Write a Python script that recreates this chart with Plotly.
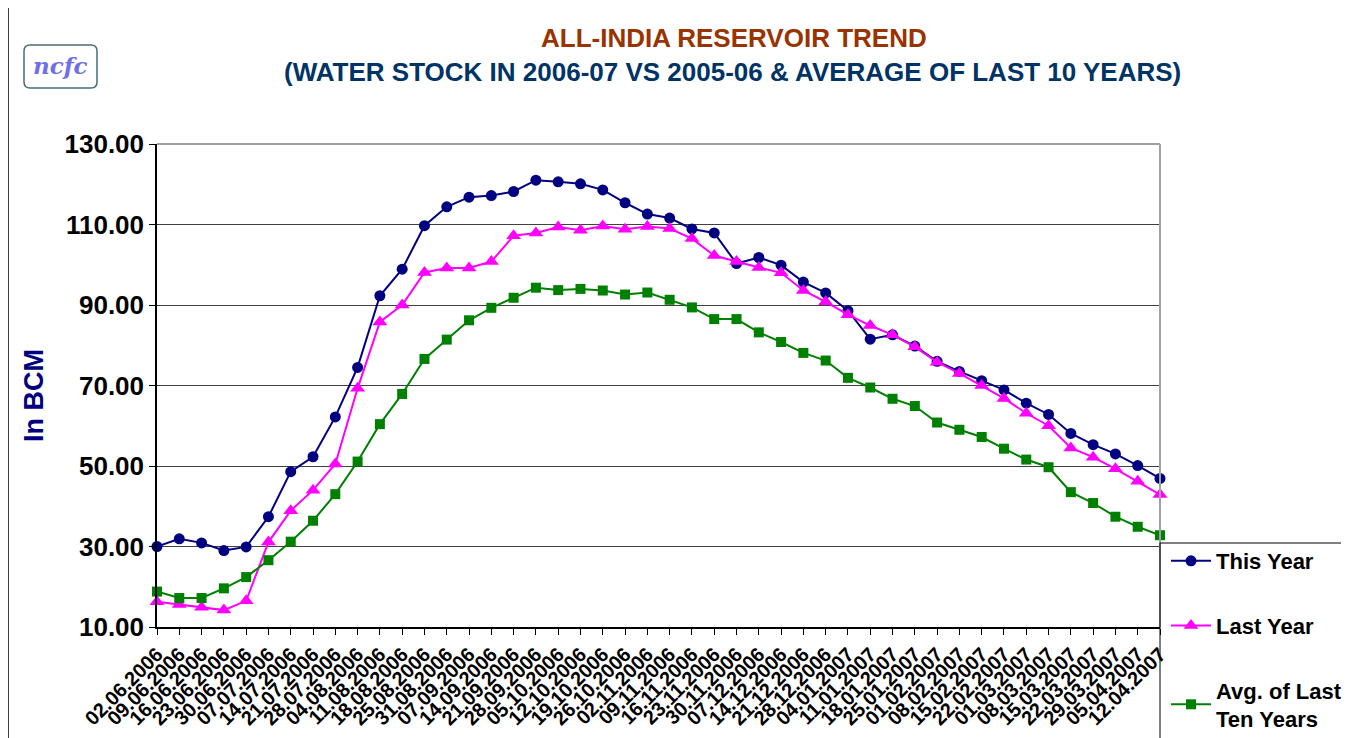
import plotly.graph_objects as go

dates = ["02.06.2006", "09.06.2006", "16.06.2006", "23.06.2006", "30.06.2006", "07.07.2006",
         "14.07.2006", "21.07.2006", "28.07.2006", "04.08.2006", "11.08.2006", "18.08.2006",
         "25.08.2006", "31.08.2006", "07.09.2006", "14.09.2006", "21.09.2006", "28.09.2006",
         "05.10.2006", "12.10.2006", "19.10.2006", "26.10.2006", "02.11.2006", "09.11.2006",
         "16.11.2006", "23.11.2006", "30.11.2006", "07.12.2006", "14.12.2006", "21.12.2006",
         "28.12.2006", "04.01.2007", "11.01.2007", "18.01.2007", "25.01.2007", "01.02.2007",
         "08.02.2007", "15.02.2007", "22.02.2007", "01.03.2007", "08.03.2007", "15.03.2007",
         "22.03.2007", "29.03.2007", "05.04.2007", "12.04.2007"]

this_year = [30.0, 31.9, 30.9, 29.0, 29.9, 37.4, 48.6, 52.3, 62.2, 74.5, 92.3, 98.9,
             109.7, 114.4, 116.8, 117.2, 118.2, 121.0, 120.6, 120.1, 118.6, 115.4, 112.6, 111.6,
             108.9, 107.9, 100.3, 101.8, 99.9, 95.7, 93.0, 88.6, 81.5, 82.6, 79.8, 76.0,
             73.5, 71.2, 68.9, 65.6, 62.8, 58.1, 55.3, 53.0, 50.1, 46.9]

last_year = [16.3, 15.6, 14.9, 14.2, 16.5, 31.1, 38.9, 44.0, 50.5, 69.3, 85.8, 90.0,
             98.1, 99.2, 99.2, 100.8, 107.2, 107.9, 109.4, 108.6, 109.6, 108.8, 109.5, 109.0,
             106.5, 102.3, 100.8, 99.3, 98.0, 93.6, 90.8, 87.6, 84.9, 82.6, 79.6, 75.8,
             73.0, 70.0, 66.8, 63.1, 60.0, 54.5, 52.2, 49.3, 46.2, 42.9]

avg_ten = [18.8, 17.2, 17.2, 19.6, 22.4, 26.6, 31.2, 36.4, 43.0, 51.1, 60.4, 67.9,
           76.6, 81.4, 86.2, 89.3, 91.8, 94.3, 93.7, 94.0, 93.6, 92.6, 93.1, 91.3,
           89.4, 86.5, 86.5, 83.2, 80.8, 78.1, 76.2, 71.9, 69.5, 66.7, 64.9, 60.8,
           59.0, 57.2, 54.3, 51.6, 49.7, 43.5, 40.8, 37.4, 34.9, 32.8]

series_names = ["This Year", "Last Year", "Avg. of Last<br>Ten Years"]
y_ticks = [10, 30, 50, 70, 90, 110, 130]

# page has an 8px body margin; all target pixel positions below are page pixels
OFF = 8
W, H = 1349 - OFF, 738 - OFF
L, R, T, B = 157, 1160, 144, 627

def px(x):
    return (x - L) / (R - L)

def py(y):
    return (B - y) / (B - T)

FONT = "Liberation Sans, Arial, sans-serif"

fig = go.Figure()
fig.add_trace(go.Scatter(x=dates, y=this_year, name=series_names[0], mode="lines+markers",
                         line=dict(color="#000080", width=2),
                         marker=dict(symbol="circle", size=11, color="#000080"),
                         cliponaxis=False, legendgroup="a"))
fig.add_trace(go.Scatter(x=dates, y=last_year, name=series_names[1], mode="lines+markers",
                         line=dict(color="#FF00FF", width=2),
                         marker=dict(symbol="triangle-up", size=13, color="#FF00FF"),
                         cliponaxis=False, legendgroup="b"))
fig.add_trace(go.Scatter(x=dates, y=avg_ten, name=series_names[2], mode="lines+markers",
                         line=dict(color="#008000", width=2),
                         marker=dict(symbol="square", size=10, color="#008000"),
                         cliponaxis=False, legendgroup="c"))

shapes = [
    dict(type="line", xref="paper", yref="paper", x0=0, x1=1, y0=1, y1=1,
         line=dict(color="#A0A0A0", width=2)),
    dict(type="line", xref="paper", yref="paper", x0=1, x1=1, y0=0, y1=1,
         line=dict(color="#A0A0A0", width=2)),
    dict(type="line", xref="paper", yref="paper", x0=px(8), x1=px(8), y0=py(745), y1=py(0),
         line=dict(color="#000000", width=1.5)),
    dict(type="line", xref="paper", yref="paper", x0=px(1160), x1=px(1352), y0=py(543), y1=py(543),
         line=dict(color="#000000", width=1)),
    dict(type="line", xref="paper", yref="paper", x0=px(1160), x1=px(1160), y0=py(543), y1=py(745),
         line=dict(color="#000000", width=1)),
    dict(type="path", xref="paper", yref="paper",
         path=(f"M {px(30)},{py(45)} L {px(91)},{py(45)} Q {px(97)},{py(45)} {px(97)},{py(51)} "
               f"L {px(97)},{py(82)} Q {px(97)},{py(88)} {px(91)},{py(88)} "
               f"L {px(30)},{py(88)} Q {px(24)},{py(88)} {px(24)},{py(82)} "
               f"L {px(24)},{py(51)} Q {px(24)},{py(45)} {px(30)},{py(45)} Z"),
         line=dict(color="#4A6E6E", width=1.5), fillcolor="white"),
]

annotations = [
    dict(text="<b>ALL-INDIA RESERVOIR TREND</b>", xref="paper", yref="paper",
         x=px(734), y=py(38), showarrow=False, xanchor="center", yanchor="middle",
         font=dict(family=FONT, size=26, color="#993300")),
    dict(text="<b>(WATER STOCK IN 2006-07 VS 2005-06 & AVERAGE OF LAST 10 YEARS)</b>",
         xref="paper", yref="paper", x=px(732), y=py(72), showarrow=False,
         xanchor="center", yanchor="middle",
         font=dict(family=FONT, size=26, color="#003366")),
    dict(text="<b>In BCM</b>", xref="paper", yref="paper", x=px(34), y=py(396),
         showarrow=False, textangle=-90, xanchor="center", yanchor="middle",
         font=dict(family=FONT, size=27, color="#000080")),
    dict(text="<b><i>ncfc</i></b>", xref="paper", yref="paper", x=px(60.5), y=py(66),
         showarrow=False, xanchor="center", yanchor="middle",
         font=dict(family="DejaVu Serif, serif", size=23, color="#7070E6")),
]

fig.update_layout(
    width=W, height=H,
    margin=dict(l=L - OFF, r=W - (R - OFF), t=T - OFF, b=H - (B - OFF), pad=0,
                autoexpand=False),
    paper_bgcolor="white", plot_bgcolor="white",
    showlegend=True,
    legend=dict(x=px(1166), y=py(540), xanchor="left", yanchor="top",
                font=dict(family=FONT, size=22, color="#000000", weight="bold"),
                tracegroupgap=33, itemwidth=40, bgcolor="rgba(0,0,0,0)",
                traceorder="grouped"),
    shapes=shapes,
    annotations=annotations,
    xaxis=dict(type="category", range=[0, len(dates) - 1], automargin=False,
               tickmode="array", tickvals=dates,
               ticktext=[f"<b>{d}</b>" for d in dates],
               tickangle=-45, tickfont=dict(family=FONT, size=20, color="#000000"),
               showgrid=False, showline=True, linecolor="#000000", linewidth=1.5,
               ticks="outside", ticklen=6, tickcolor="#000000", zeroline=False),
    yaxis=dict(range=[10, 130], tickmode="array", tickvals=y_ticks, automargin=False,
               ticktext=[f"<b>{v:.2f}</b>" for v in y_ticks],
               tickfont=dict(family=FONT, size=26, color="#000000"),
               showgrid=True, gridcolor="#404040", gridwidth=1,
               showline=True, linecolor="#000000", linewidth=1.5,
               ticks="outside", ticklen=6, tickcolor="#000000", zeroline=False),
)

fig.write_html("out.html")
